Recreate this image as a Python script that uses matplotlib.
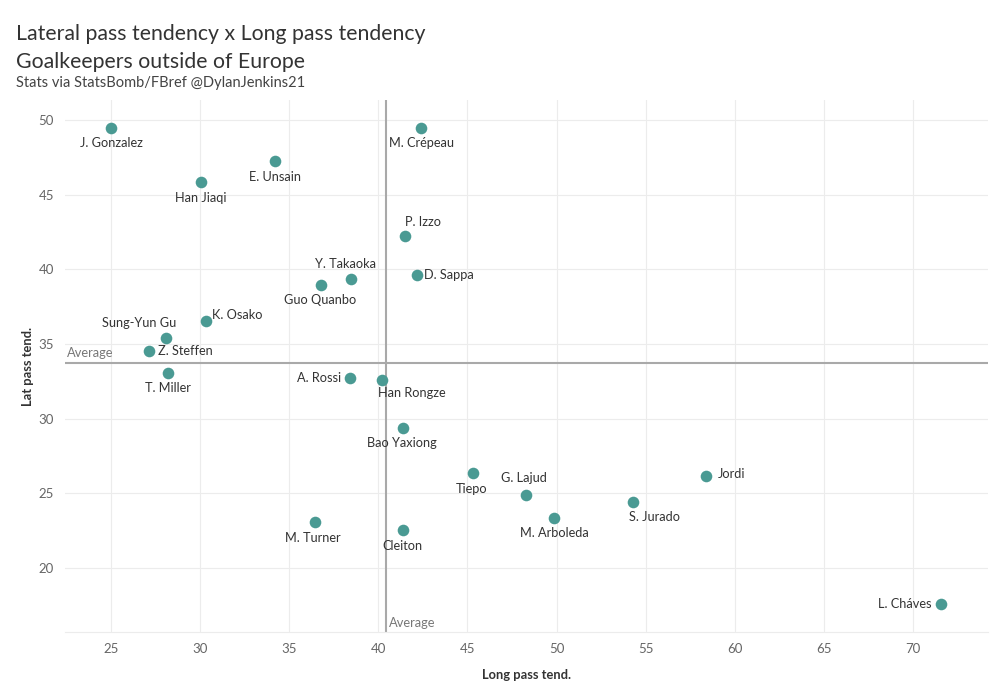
import numpy as np
from matplotlib import pyplot as plt

players = ["J. Gonzalez", "M. Crépeau", "E. Unsain", "Han Jiaqi", "P. Izzo", "D. Sappa",
           "Y. Takaoka", "Guo Quanbo", "K. Osako", "Sung-Yun Gu", "Z. Steffen", "T. Miller",
           "A. Rossi", "Han Rongze", "Bao Yaxiong", "Tiepo", "G. Lajud", "Jordi",
           "S. Jurado", "M. Arboleda", "M. Turner", "Cleiton", "L. Cháves"]
long_pass = [25.0, 42.4, 34.2, 30.05, 41.5, 42.17, 38.47, 36.78, 30.33, 28.09, 27.13, 28.2,
             38.41, 40.21, 41.39, 45.31, 48.29, 58.39, 54.29, 49.86, 36.44, 41.39, 71.57]
lat_pass = [49.46, 49.46, 47.24, 45.83, 42.27, 39.64, 39.37, 38.97, 36.55, 35.41, 34.53, 33.05,
            32.72, 32.58, 29.36, 26.33, 24.92, 26.13, 24.45, 23.37, 23.1, 22.56, 17.59]
avg_long = 40.43
avg_lat = 33.73

# label offsets in pixels (dx, dy, ha)
offsets = {
    "J. Gonzalez": (0, -15, "center"), "M. Crépeau": (0, -15, "center"),
    "E. Unsain": (0, -16, "center"), "Han Jiaqi": (0, -16, "center"),
    "P. Izzo": (18, 14, "center"), "D. Sappa": (7, 0, "left"),
    "Y. Takaoka": (-6, 15, "center"), "Guo Quanbo": (-1, -15, "center"),
    "K. Osako": (6, 6, "left"), "Sung-Yun Gu": (-27, 15, "center"),
    "Z. Steffen": (9, 0, "left"), "T. Miller": (0, -15, "center"),
    "A. Rossi": (-9, 0, "right"), "Han Rongze": (30, -13, "center"),
    "Bao Yaxiong": (-1, -15, "center"), "Tiepo": (-1, -16, "center"),
    "G. Lajud": (-2, 17, "center"), "Jordi": (12, 2, "left"),
    "S. Jurado": (22, -15, "center"), "M. Arboleda": (0, -15, "center"),
    "M. Turner": (-2, -16, "center"), "Cleiton": (-1, -16, "center"),
    "L. Cháves": (-9, 0, "right"),
}

plt.rcParams['font.family'] = ['Lato', 'DejaVu Sans']
fig = plt.figure(figsize=(10, 7), dpi=100)
ax = fig.add_axes([0.065, 0.097, 0.923, 0.76])

ax.scatter(long_pass, lat_pass, s=70, color="#4a9a93", zorder=3, linewidths=0)
for name, x, y in zip(players, long_pass, lat_pass):
    dx, dy, ha = offsets[name]
    ax.annotate(name, (x, y), xytext=(dx, dy), textcoords="offset pixels",
                ha=ha, va="center", fontsize=9.2, color="#333333", zorder=4)

ax.axvline(avg_long, color="#a9a9a9", lw=1.5, zorder=2)
ax.axhline(avg_lat, color="#a9a9a9", lw=1.5, zorder=2)
ax.text(22.55, avg_lat + 0.25, "Average", fontsize=9.3, color="#777777", va="bottom", ha="left")
ax.text(avg_long + 0.15, 15.9, "Average", fontsize=9.3, color="#777777", va="bottom", ha="left")

ax.set_xlim(22.42, 74.21)
ax.set_ylim(15.7, 51.35)
ax.set_xticks(np.arange(25, 75, 5))
ax.set_yticks(np.arange(20, 55, 5))
ax.grid(True, color="#ececec", lw=0.8, zorder=0)
for s in ["top", "right", "left"]:
    ax.spines[s].set_visible(False)
ax.spines["bottom"].set_color("#ececec")
ax.tick_params(length=0, labelsize=9.5, colors="#666666", pad=8)

ax.set_xlabel("Long pass tend.", fontsize=9.3, color="#333333", fontweight="bold", labelpad=10)
ax.set_ylabel("Lat pass tend.", fontsize=9.3, color="#333333", fontweight="bold", labelpad=3)

fig.text(0.016, 0.952, "Lateral pass tendency x Long pass tendency", fontsize=15.3, color="#333333", va="center")
fig.text(0.016, 0.912, "Goalkeepers outside of Europe", fontsize=15.3, color="#333333", va="center")
fig.text(0.016, 0.882, "Stats via StatsBomb/FBref @DylanJenkins21", fontsize=10.5, color="#444444", va="center")

plt.savefig("out.png", dpi=100)
